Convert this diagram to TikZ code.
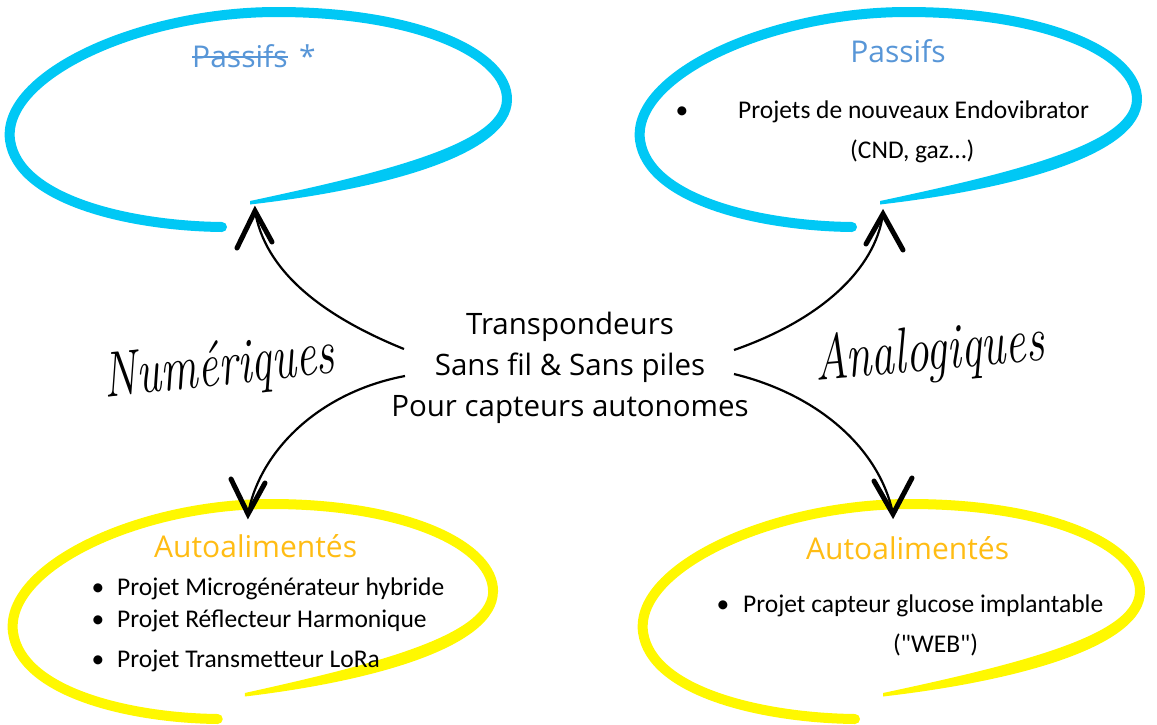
\documentclass[tikz,border=0pt]{standalone}
\usepackage{fontspec}
\newfontfamily\comic{Open Sans}
\newfontfamily\calib{Carlito}
\definecolor{bubcyan}{RGB}{0,200,245}
\definecolor{bubyellow}{RGB}{255,248,0}
\definecolor{titleblue}{RGB}{88,150,215}
\definecolor{titleorange}{RGB}{255,188,20}
\newcommand\speechbubble[4]{%
  \begin{scope}[shift={(#2,#3)},xscale=#4]
    \draw[#1,line width=10pt,line cap=round]
      (222,227) .. controls (130,226) and (18,200) .. (10,140)
      .. controls (2,75) and (140,12) .. (277,12)
      .. controls (420,12) and (508,55) .. (507,100);
    \fill[#1] (512,100) .. controls (511,155) and (384,189) .. (250,204.5)
      -- (250,201) .. controls (376,174) and (500,145) .. (502,100) -- cycle;
  \end{scope}}
\tikzset{
  ttl/.style={inner sep=0pt,font=\comic\fontsize{30}{34}\selectfont},
  item/.style={inner sep=0pt,font=\calib\fontsize{25.5}{30}\selectfont},
  hand/.style={inner sep=0pt,font=\fontsize{46}{50}\selectfont\itshape},
  conn/.style={draw=black,line width=2.2pt},
  barb/.style={draw=black,line width=5pt,line cap=round}
}
\begin{document}
\begin{tikzpicture}[x=1pt,y=-1pt]
\useasboundingbox (0,0) rectangle (1157,724);
% bubbles
\speechbubble{bubcyan}{0}{0}{1}
\speechbubble{bubcyan}{630}{0}{1}
\speechbubble{bubyellow}{3.3}{492}{0.966}
\speechbubble{bubyellow}{633}{492}{1}
% titles
\node[ttl,text=titleblue,anchor=base west] (p1) at (192,67) {Passifs};
\draw[titleblue,line width=1.6pt] ([yshift=10pt]p1.base west) -- ([yshift=10pt]p1.base east);
\node[ttl,text=titleblue,anchor=base west] (ast) at (299,67) {*};
\node[ttl,text=titleblue,anchor=base] (p2) at (898,62) {Passifs};
\node[ttl,text=titleorange,anchor=base west] (a1) at (154,557) {Autoalimentés};
\node[ttl,text=titleorange,anchor=base west] (a2) at (806,559) {Autoalimentés};
% items
\node[item,anchor=base] (b1) at (682,118) {•};
\node[item,anchor=base west] (t1) at (738,118) {Projets de nouveaux Endovibrator};
\node[item,anchor=base west] (t2) at (850,158) {(CND, gaz…)};
\node[item,anchor=base] (b2) at (98,595) {•};
\node[item,anchor=base west] (t3) at (117,595) {Projet Microgénérateur hybride};
\node[item,anchor=base] (b3) at (98,627) {•};
\node[item,anchor=base west] (t4) at (117,627) {Projet Réflecteur Harmonique};
\node[item,anchor=base] (b4) at (98,667) {•};
\node[item,anchor=base west] (t5) at (117,667) {Projet Transmetteur LoRa};
\node[item,anchor=base] (b5) at (723,612) {•};
\node[item,anchor=base west] (t6) at (743,612) {Projet capteur glucose implantable};
\node[item,anchor=base west] (t7) at (893,652) {("WEB")};
% centre
\node[ttl,align=center,font=\comic\fontsize{29.5}{41}\selectfont] (c) at (570,368)
  {Transpondeurs\\Sans fil \& Sans piles\\Pour capteurs autonomes};
% handwritten labels
\node[hand,anchor=base,rotate=6,yscale=1.4] (num) at (221,385) {Numériques};
\node[hand,anchor=base,rotate=5,yscale=1.4] (ana) at (931,370) {Analogiques};
% connectors
\coordinate (sNW) at (404,349);
\coordinate (sSW) at (405,376);
\coordinate (sNE) at (734,350);
\coordinate (sSE) at (734,374);
\coordinate (tNW) at (255,211);
\coordinate (tSW) at (248,514);
\coordinate (tNE) at (883,214);
\coordinate (tSE) at (893,514);
\draw[conn] (sNW) .. controls (320,315) and (265,270) .. (tNW);
\draw[conn] (sSW) .. controls (320,392) and (260,450) .. (tSW);
\draw[conn] (sNE) .. controls (820,320) and (875,270) .. (tNE);
\draw[conn] (sSE) .. controls (820,395) and (880,450) .. (tSE);
% arrowheads
\coordinate (nw1) at (237,248); \coordinate (nw2) at (272,242);
\coordinate (sw1) at (231,479); \coordinate (sw2) at (265,483);
\coordinate (ne1) at (866,244); \coordinate (ne2) at (903,250);
\coordinate (se1) at (874,481); \coordinate (se2) at (912,478);
\draw[barb] (nw1) -- (tNW) -- (nw2);
\draw[barb] (sw1) -- (tSW) -- (sw2);
\draw[barb] (ne1) -- (tNE) -- (ne2);
\draw[barb] (se1) -- (tSE) -- (se2);
\end{tikzpicture}
\end{document}
